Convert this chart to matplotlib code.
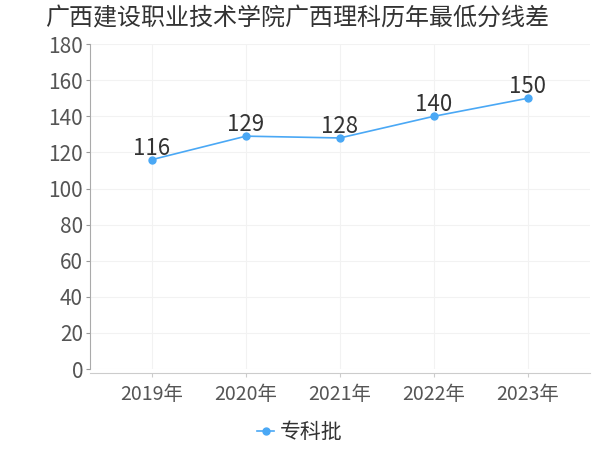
import matplotlib
matplotlib.use("Agg")
import matplotlib.pyplot as plt

plt.rcParams['font.family'] = ['Noto Sans CJK SC', 'DejaVu Sans']

years = ["2019年", "2020年", "2021年", "2022年", "2023年"]
scores = [116, 129, 128, 140, 150]
series_name = "专科批"
title = "广西建设职业技术学院广西理科历年最低分线差"

color = "#4aa8f5"
text_col = "#555555"

fig = plt.figure(figsize=(6, 4.5), dpi=100)
ax = fig.add_axes([0.15, 0.18, 0.833, 0.722])

x = list(range(len(years)))
ax.plot(x, scores, color=color, lw=1.2, marker="o", ms=5, label=series_name)
for xi, v in zip(x, scores):
    ax.annotate(str(v), (xi, v), xytext=(0, 0), textcoords="offset points",
                ha="center", va="bottom", fontsize=16, color="#333333")

ax.set_xlim(-0.66, 4.66)
ax.set_ylim(0, 180)
ax.set_yticks(range(0, 181, 20))
ax.set_xticks(x)
ax.set_xticklabels(years)
ax.tick_params(axis="y", labelsize=15, colors="#999999", labelcolor=text_col, length=3, pad=2)
ax.tick_params(axis="x", labelsize=14, colors="#cccccc", labelcolor=text_col, length=3, pad=5)
ax.grid(True, color="#f2f2f2", lw=0.8)
for s in ["top", "right"]:
    ax.spines[s].set_visible(False)
ax.spines["left"].set_color("#aaaaaa")
ax.spines["bottom"].set_color("#cccccc")
ax.spines["bottom"].set_position(("outward", 3))

fig.text(0.075, 0.958, title, fontsize=17.3, color="#333333", va="center", ha="left")
fig.legend(loc="center", bbox_to_anchor=(0.5, 0.04), frameon=False, fontsize=15,
           handlelength=0.8, handletextpad=0.3, labelcolor="#333333")

fig.savefig("out.png")
